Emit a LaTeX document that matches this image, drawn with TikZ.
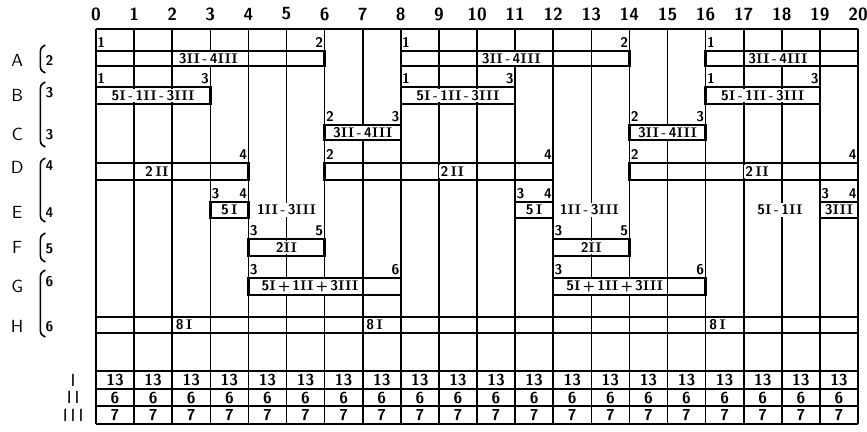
\documentclass[tikz,border=0pt]{standalone}
\usepackage{tikz}
\newcommand{\rn}[1]{{\rmfamily #1}}

\begin{document}
\begin{tikzpicture}[x=0.762cm, y=-0.02cm,
  gridline/.style={line width=0.9pt},
  topline/.style={line width=1.5pt},
  tableline/.style={line width=1.2pt},
  barbox/.style={line width=1.4pt},
  bartext/.style={font=\sffamily\bfseries\footnotesize, fill=white, inner sep=0.8pt},
  endlabel/.style={font=\sffamily\bfseries\footnotesize, inner sep=0.6pt},
  colnum/.style={font=\sffamily\bfseries},
  rowlabel/.style={font=\sffamily},
  cellnum/.style={font=\sffamily\bfseries\small},
  brace/.style={line width=0.9pt}]
  \useasboundingbox (-2.52,0) rectangle (20.236,431);
  % column numbers and grid lines
  \foreach \c in {0,...,20} {
    \node[colnum] (c\c) at (\c,14) {\c};
    \draw[gridline] (\c,29) -- (\c,424);
  }
  \draw[topline] (0,29) -- (20,29);
  \foreach \y in {371,389,406,424} \draw[tableline] (0,\y) -- (20,\y);
  % bars: from/to/top/bottom
  \foreach \a/\b/\t/\u in {0/6/51/66, 8/14/51/66, 16/20/51/66,
      0/3/87/104, 8/11/87/104, 16/19/87/104,
      6/8/125/140, 14/16/125/140,
      0/4/163/180, 6/12/163/180, 14/20/163/180,
      3/4/202/218, 11/12/202/218, 19/20/202/218,
      4/6/239/256, 12/14/239/256,
      4/8/278/295, 12/16/278/295,
      0/20/317/333}
    \draw[barbox] (\a,\t) rectangle (\b,\u);
  % numbers at the bar ends
  \foreach \x/\y/\n in {0/49/1, 8/49/1, 16/49/1, 0/85/1, 8/85/1, 16/85/1,
      6/123/2, 14/123/2, 6/161/2, 14/161/2, 3/200/3, 11/200/3, 19/200/3,
      4/237/3, 12/237/3, 4/276/3, 12/276/3}
    \node[endlabel, anchor=south west] (s\x-\y) at (\x,\y) {\n};
  \foreach \x/\y/\n in {6/49/2, 14/49/2, 3/85/3, 11/85/3, 19/85/3,
      8/123/3, 16/123/3, 4/161/4, 12/161/4, 20/161/4, 4/200/4, 12/200/4,
      20/200/4, 6/237/5, 14/237/5, 8/276/6, 16/276/6}
    \node[endlabel, anchor=south east] (e\x-\y) at (\x,\y) {\n};
  % texts in the bars
  \node[bartext] (tA1) at (2.95,58.5) {3\rn{II}\,-\,4\rn{III}};
  \node[bartext] (tA2) at (10.9,58.5) {3\rn{II}\,-\,4\rn{III}};
  \node[bartext] (tA3) at (17.9,58.5) {3\rn{II}\,-\,4\rn{III}};
  \node[bartext] (tB1) at (1.5,95.5) {5\rn{I}\,-\,1\rn{II}\,-\,3\rn{III}};
  \node[bartext] (tB2) at (9.5,95.5) {5\rn{I}\,-\,1\rn{II}\,-\,3\rn{III}};
  \node[bartext] (tB3) at (17.5,95.5) {5\rn{I}\,-\,1\rn{II}\,-\,3\rn{III}};
  \node[bartext] (tC1) at (7,132.5) {3\rn{II}\,-\,4\rn{III}};
  \node[bartext] (tC2) at (15,132.5) {3\rn{II}\,-\,4\rn{III}};
  \node[bartext] (tD1) at (1.6,171.5) {2\,\rn{II}};
  \node[bartext] (tD2) at (9.35,171.5) {2\,\rn{II}};
  \node[bartext] (tD3) at (17.35,171.5) {2\,\rn{II}};
  \node[bartext] (tE1) at (3.5,210) {5\,\rn{I}};
  \node[bartext] (tE2) at (5.0,210) {1\rn{II}\,-\,3\rn{III}};
  \node[bartext] (tE3) at (11.5,210) {5\,\rn{I}};
  \node[bartext] (tE4) at (12.95,210) {1\rn{II}\,-\,3\rn{III}};
  \node[bartext] (tE5) at (17.95,210) {5\rn{I}\,-\,1\rn{II}};
  \node[bartext] (tE6) at (19.5,210) {3\rn{III}};
  \node[bartext] (tF1) at (5.0,247.5) {2\rn{II}};
  \node[bartext] (tF2) at (13.0,247.5) {2\rn{II}};
  \node[bartext, anchor=west] (tG1) at (4.3,286.5) {5\rn{I}\,+\,1\rn{II}\,+\,3\rn{III}};
  \node[bartext, anchor=west] (tG2) at (12.3,286.5) {5\rn{I}\,+\,1\rn{II}\,+\,3\rn{III}};
  \foreach \x in {2,7,16}
    \node[bartext, anchor=west] (tH\x) at (\x+0.05,325) {8\,\rn{I}};
  % totals per column
  \foreach \c in {0,...,19} {
    \node[cellnum] (nI\c) at (\c+0.5,380) {13};
    \node[cellnum] (nII\c) at (\c+0.5,397.5) {6};
    \node[cellnum] (nIII\c) at (\c+0.5,415) {7};
  }
  \node[rowlabel] (kI) at (-0.6,380) {I};
  \node[rowlabel] (kII) at (-0.6,397.5) {I\,I};
  \node[rowlabel] (kIII) at (-0.6,415) {I\,I\,I};
  % row letters, brackets and counts
  \foreach \r/\y in {A/60, B/95, C/134, D/167, E/212, F/247, G/286, H/326}
    \node[rowlabel] (r\r) at (-2.07,\y) {\r};
  \foreach \t/\u in {45/73, 82/147, 158/222, 233/262, 270/337}
    \draw[brace] (-1.33,\t) .. controls (-1.46,\t+3) .. (-1.46,\t+10)
      -- (-1.46,\u-10) .. controls (-1.46,\u-3) .. (-1.33,\u);
  \foreach \y/\n in {60/2, 93/3, 135/3, 166/4, 213/4, 249/5, 282/6, 327/6}
    \node[endlabel] (k\y) at (-1.22,\y) {\n};
\end{tikzpicture}
\end{document}
